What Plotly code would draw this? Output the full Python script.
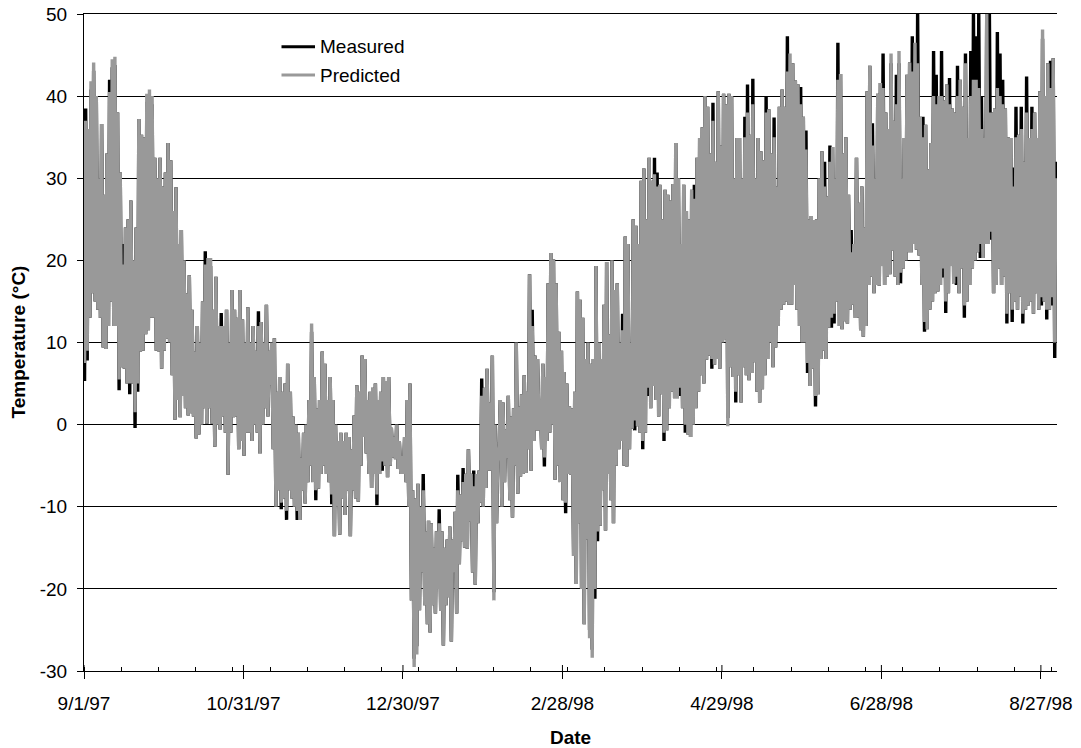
import pandas as pd
import plotly.graph_objects as go

START = "1997-09-01"

# Daily air temperature extremes (deg C), one value per day from 9/1/97
measured_high = [
    38.5, 36, 40.8, 43.1, 40, 30, 36.6, 28, 33, 42,
    43.5, 43.8, 38, 30.7, 22, 24, 25, 27.3, 20, 24,
    37.2, 35.3, 35, 39.3, 39.8, 39, 32.5, 30, 32.5, 29,
    30.7, 34.3, 32.2, 26, 28.9, 22, 23.7, 20, 16, 18.2,
    14, 8.9, 12, 10, 15, 21.1, 19.3, 19.3, 14, 18,
    12, 13.6, 12, 14, 10, 16.4, 14, 13, 16.4, 12.8,
    10, 14.3, 10, 12, 9, 13.8, 12.5, 10, 14.6, 9,
    10, 10.5, 4, 5.8, 4, 5, 7.4, 4, 1, 0,
    -1, -4, -1, 0, 3, 11.3, 5.8, 2, 3, 8.9,
    7.4, 3, 5.8, 3, 0, -2, -1, -2, -1, -1.5,
    -3, 1.1, 4.8, 4, 8.4, 8, 3, 4, 4.5, 5,
    3, 4, 5.8, 5.3, 5.8, -0.4, -1.5, 0, -2, -3.8,
    -1.5, 3, 5, -8, -9, -7.2, -10, -6, -13, -11.7,
    -12, -15, -13, -10.3, -13, -15, -14, -12.4, -14, -10.6,
    -6.1, -8.5, -5.3, -6, -3, -6, -5.6, -6, -5.6, 5.6,
    4.5, 6.8, 2.7, 8.4, 0, -4.5, 3, 2.7, -0.6, 3.5,
    1, 2, 10, 2.2, 3.7, 6, 4, 18.3, 14, 8.4,
    8, 3, 7.4, 5.8, 17.2, 20.9, 20.1, 17.2, 11.3, 9,
    6.4, 5, 2.2, 2, 4, 16.2, 15.2, 13, 8, 10,
    7.4, 8, 19.3, 10, 8, 14.6, 19.8, 11, 20, 16.4,
    17.2, 10, 13.5, 22.9, 22, 10, 25, 24.2, 22, 29.7,
    31.2, 25, 32.5, 29.7, 32.5, 30.7, 29.2, 25, 28.6, 28,
    27.3, 29.3, 34.3, 30, 22, 29.2, 26, 25, 28.6, 29.2,
    32.5, 34.9, 36.2, 40, 38.7, 33, 39.2, 32, 40.6, 34,
    40.3, 39, 40.3, 40, 30, 34.9, 34.9, 30, 37.5, 41.4,
    35.3, 42.1, 30, 34.9, 33.3, 32.2, 40, 38.4, 33, 37.4,
    29, 38.7, 40.8, 38.7, 47.3, 44, 44, 41.9, 41.4, 41.1,
    37.5, 35.8, 25, 25.4, 24.9, 25, 30, 33.3, 32, 27.8,
    34, 33.8, 30, 46.5, 42.7, 33, 35, 28, 23.7, 22,
    32.5, 27, 29, 24, 40.6, 43.7, 36.7, 30, 40.3, 41.6,
    45.2, 38, 36, 44, 37, 42.6, 44, 30, 34.9, 42.6,
    44.1, 47.3, 45, 50, 37.5, 37.5, 36.5, 31.1, 34.3, 45.5,
    42.6, 40, 45.5, 39.5, 41.4, 42.2, 38.5, 38, 43.7, 42,
    38.7, 45.2, 34.9, 45.5, 50, 47.3, 50, 40, 35, 50,
    50, 38, 38.5, 47.8, 45.2, 42, 38.5, 35, 34.9, 31.3,
    38.7, 35.3, 38.7, 32, 42.4, 34.9, 38.7, 38, 34.9, 40.6,
    47, 40, 44, 44.3, 44.6, 32,
]

measured_low = [
    5.3, 7.8, 13, 16, 15, 14, 13, 9.4, 9.2, 12,
    15, 12, 12, 4.2, 7, 6.8, 5, 3.7, 5, -0.4,
    4, 8.9, 9, 11, 11.5, 13, 13, 9, 8.9, 6.8,
    9, 10.5, 10, 6, 0.6, 3, 0.9, 3.5, 2, 1.1,
    1.4, 1, -1.7, -1.2, 0, 2, 0.1, 2, 0.1, -2.7,
    0, -0.6, 1, -1, -6.1, -1, 0.9, 1, -3, -2,
    -3.8, -1, -1, -2, 0, -1, -3.5, 0, 2, 1,
    4.8, -3, -10, -8, -10.3, -9, -11.6, -8, -9, -10,
    -11.6, -11.6, -8, -9.6, -7, -5, -7, -9.2, -7.8, -6,
    -5, -6, -7, -9.7, -13.6, -10, -13.4, -9, -11, -8,
    -13.6, -8, -9, -9.4, -5, -1.5, -3.5, -6, -7.7, -6,
    -9.8, -6, -5.6, -5, -6.4, -5, -4, -4.2, -5.4, -6,
    -6, -7, -10, -21.4, -28.5, -27, -22.6, -18, -22, -24.3,
    -25.3, -22, -23, -20, -22.7, -26.9, -22, -21, -26.4, -18,
    -23, -17, -14.2, -15, -15.1, -11.8, -18, -19.5, -12, -9.5,
    -10, -7.7, -5.6, -5.6, -20.4, -12, -2.2, -10, -7, -4.1,
    -9.2, -11.3, -5, -8.4, -6.3, -6, -5.9, -3, -5.6, -2,
    -0.7, -0.7, -3, -5.1, -2, -1, 0, -6.7, -5, -7,
    -9.2, -10.8, -6, -6.1, -16, -19.4, -12, -20, -24.3, -14,
    -25, -27.4, -21.2, -14.2, -12.3, -8, -12.9, -6, -9.2, -12,
    -5, -3, -2, -5, -5.1, -3, -0.5, -0.7, -0.2, -1,
    -3, -1, 3.5, 2, 4.7, 3, 1, 3.7, -2, -0.7,
    2, 4, 3.2, 3.2, 3.5, 2, -1, -1.2, -1.5, 0,
    2, 4, 6, 5, 7.9, 8.4, 6.8, 7.3, 8, 6.8,
    10, 10.4, 0.8, 7, 5.8, 2.7, 6, 2.7, 7, 6,
    5.4, 6.3, 7.6, 4, 2.7, 4.3, 6, 8, 10, 7,
    9.4, 12, 14, 14.6, 15, 14.6, 14.6, 17, 14, 12,
    10, 10, 6.3, 4.7, 6.8, 2.2, 3.7, 8, 9, 8,
    11.8, 11.8, 12.3, 15, 12, 11.6, 12.6, 12.3, 14, 14.6,
    13, 13, 11.5, 10.7, 12, 17, 18, 16, 17, 16.9,
    19.3, 17, 18, 18.3, 21.2, 18, 17, 17.2, 19, 20,
    21, 21, 22, 21.3, 20.6, 17, 11.3, 11.6, 14, 15,
    16, 16.2, 17, 17.9, 13.6, 16, 19.3, 17.2, 17, 16,
    19, 13, 15, 17, 19, 20, 21, 20.3, 20.3, 22,
    27.3, 22.5, 16, 17, 19, 17, 18, 12.3, 16, 12.5,
    15, 14, 15.6, 12.3, 14, 14.5, 15, 13.5, 16, 14,
    14.5, 15, 12.8, 14, 14.5, 8.1,
]

predicted_high = [
    37, 36, 41.8, 44.1, 40, 30, 36.6, 28, 33, 40.5,
    44.5, 44.8, 38, 30.7, 19.5, 24, 25, 27.3, 20, 24,
    37.2, 35.3, 35, 40.3, 40.8, 40, 32.5, 30, 32.5, 29,
    30.7, 34.3, 32.2, 26, 28.9, 22, 23.7, 20, 16, 18.2,
    14, 8.9, 12, 10, 15, 19.5, 20.3, 20.3, 14, 18,
    12, 12, 12, 14, 10, 16.4, 14, 13, 16.4, 12.8,
    10, 14.3, 10, 12, 9, 12, 12.5, 10, 14.6, 9,
    10, 10.5, 4, 5.8, 4, 5, 7.4, 4, 1, 0,
    -1, -4, -1, 0, 3, 12.3, 5.8, 2, 3, 8.9,
    7.4, 3, 5.8, 3, 0, -2, -1, -2, -1, -1.5,
    -3, 1.1, 4.8, 4, 8.4, 8, 3, 4, 4.5, 5,
    3, 4, 5.8, 5.3, 5.8, -0.4, -1.5, 0, -2, -3.8,
    -1.5, 3, 5, -8, -9, -7.2, -10, -8, -13, -11.7,
    -12, -15, -13, -12, -13, -15, -14, -12.4, -14, -10.6,
    -8, -8.5, -7, -6, -3, -6, -7.5, -6, -5.6, 3.5,
    4.5, 6.8, 2.7, 8.4, 0, -4.5, 3, 2.7, -0.6, 3.5,
    1, 2, 10, 2.2, 3.7, 6, 4, 18.3, 12, 8.4,
    8, 3, 7.4, 5.8, 17.2, 20.9, 20.1, 17.2, 11.3, 9,
    6.4, 5, 2.2, 2, 4, 16.2, 15.2, 13, 8, 10,
    7.4, 8, 19.3, 10, 8, 14.6, 19.8, 11, 20, 16.4,
    17.2, 10, 11.5, 22.9, 22, 10, 25, 24.2, 22, 29.7,
    31.2, 25, 32.5, 29.7, 30.5, 29, 29.2, 25, 28.6, 28,
    27.3, 29.3, 34.3, 30, 22, 29.2, 26, 25, 28.6, 27.5,
    32.5, 34.9, 36.2, 40, 38.7, 33, 37, 32, 40.6, 34,
    40.3, 39, 40.3, 40, 30, 34.9, 34.9, 30, 35, 38,
    35.3, 39, 30, 34.9, 33.3, 32.2, 38, 38.4, 33, 35,
    29, 38.7, 40.8, 38.7, 43, 45.2, 44, 41.9, 41.4, 39,
    37.5, 33.5, 25, 25.4, 24.9, 25, 30, 33.3, 29, 27.8,
    32, 33.8, 30, 42, 42.7, 33, 35, 28, 21, 22,
    32.5, 27, 29, 24, 40.6, 43.7, 34, 30, 40.3, 41.6,
    41, 38, 36, 45.2, 37, 39, 45.5, 30, 34.9, 42.6,
    44.1, 43, 46.5, 44, 37.5, 35, 36.5, 31.1, 34.3, 40,
    39, 40, 40, 39.5, 41.4, 39, 38.5, 38, 40, 42,
    38.7, 44, 34.9, 40, 42, 42, 41, 36, 35, 50,
    38, 38, 38.5, 41, 40, 39, 38.5, 35, 34.9, 29,
    35, 35.3, 36, 32, 38, 34.9, 36, 38, 34.9, 40.6,
    48.1, 40, 44, 41, 44.6, 30,
]

predicted_low = [
    7.5, 9, 13, 16, 15, 14, 13, 9.4, 9.2, 12,
    15, 12, 12, 5.5, 7, 6.8, 5, 5, 5, 1.5,
    5, 8.9, 9, 11, 11.5, 13, 13, 9, 8.9, 6.8,
    9, 10.5, 10, 6, 0.6, 3, 0.9, 3.5, 2, 1.1,
    1.4, 1, -1.7, -1.2, 0, 2, 0.1, 2, 0.1, -2.7,
    0, -0.6, 1, -1, -6.1, -1, 0.9, 1, -3, -2,
    -3.8, -1, -1, -2, 0, -1, -3.5, 0, 2, 1,
    4.8, -3, -10, -8, -9.5, -9, -10.5, -8, -9, -10,
    -10.5, -11.6, -8, -9.6, -7, -5, -7, -8, -7.8, -6,
    -5, -6, -7, -8.5, -13.6, -10, -13.4, -9, -11, -8,
    -13.6, -8, -9, -9.4, -5, -1.5, -3.5, -6, -7.7, -6,
    -8.5, -6, -4.5, -5, -6.4, -5, -4, -4.2, -5.4, -6,
    -6, -7, -10, -21.4, -29.5, -28, -22.6, -18, -22, -24.3,
    -25.3, -22, -23, -20, -22.7, -26.9, -22, -21, -26.4, -18,
    -23, -17, -14.2, -15, -15.1, -11.8, -18, -19.5, -12, -9.5,
    -10, -7.7, -5.6, -5.6, -21.4, -12, -2.2, -10, -7, -4.1,
    -9.2, -11.3, -5, -8.4, -6.3, -6, -5.9, -3, -5.6, -2,
    -0.7, -0.7, -3, -4, -2, -1, 0, -6.7, -5, -7,
    -9.2, -9.5, -6, -6.1, -16, -19.4, -12, -20, -24.3, -14,
    -26, -28.4, -20, -13, -12.3, -8, -12.9, -6, -9.2, -12,
    -5, -3, -2, -5, -5.1, -3, -0.5, 0.5, -0.2, -1,
    -2, -1, 4.5, 2, 4.7, 3, 1, 3.7, -1, -0.7,
    2, 4, 3.2, 3.2, 4.5, 2, 0, -1.2, -1.5, 0,
    2, 4, 6, 5, 7.9, 8.4, 8, 7.3, 8, 6.8,
    10, 10.4, -0.2, 7, 5.8, 4, 6, 2.7, 7, 6,
    5.4, 6.3, 7.6, 4, 2.7, 4.3, 6, 8, 10, 7,
    9.4, 12, 14, 14.6, 15, 14.6, 14.6, 17, 14, 12,
    10, 10, 7.5, 4.7, 6.8, 3.5, 3.7, 8, 9, 8,
    11.8, 13, 13.5, 15, 12, 11.6, 12.6, 12.3, 14, 14.6,
    13, 13, 11.5, 10.7, 12, 17, 18, 16, 17, 16.9,
    19.3, 17, 18, 18.3, 21.2, 18, 17, 18.5, 19, 20,
    21, 21, 22, 21.3, 20.6, 17, 12.5, 11.6, 14, 15,
    16, 16.2, 17, 19, 15, 16, 19.3, 17.2, 18, 16,
    19, 14.5, 15, 17, 19, 20, 21, 22, 20.3, 22,
    22, 23.5, 16, 17, 19, 17, 18, 13.5, 16, 14,
    15, 14, 15.6, 13.5, 14, 14.5, 15, 13.5, 16, 14,
    15.5, 15, 14, 14, 15.5, 10,
]

# Temperature axis ticks and their labels (plain hyphen for negatives)
y_ticks = [-30, -20, -10, 0, 10, 20, 30, 40, 50]
y_tick_labels = ["-30", "-20", "-10", "0", "10", "20", "30", "40", "50"]

# Axis settings
Y_MIN, Y_MAX = -30, 50
X_END = "1998-09-02 01:30"
MAJOR_DAYS = 60
MINOR_DAYS = 14
DAY_MS = 86400000

FONT = "Liberation Sans, Arial, sans-serif"
GRAY = "#999999"

# Daily minimum early morning, maximum mid-afternoon
days = pd.date_range(START, periods=len(measured_high), freq="D")
t_low = days + pd.Timedelta(hours=5)
t_high = days + pd.Timedelta(hours=15)


def diurnal(lows, highs):
    xs, ys = [], []
    for tl, th, lo, hi in zip(t_low, t_high, lows, highs):
        xs += [tl, th]
        ys += [lo, hi]
    return xs, ys


mx, my = diurnal(measured_low, measured_high)
px_, py_ = diurnal(predicted_low, predicted_high)

fig = go.Figure()
fig.add_trace(go.Scatter(x=mx, y=my, mode="lines", name="Measured",
                         line=dict(color="#000000", width=3.4), showlegend=False))
fig.add_trace(go.Scatter(x=px_, y=py_, mode="lines", name="Predicted",
                         line=dict(color=GRAY, width=3.4), showlegend=False))

W, H = 1081, 748
L, R, T, B = 84, 24, 14, 77
plot_w = W - L - R
plot_h = H - T - B


def px_to_paper(x, y):
    return (x - L) / plot_w, (H - B - y) / plot_h


shapes = []
annotations = []

# Legend drawn in the upper-left area
for label, color, ypix in (("Measured", "#000000", 46.7), ("Predicted", GRAY, 75)):
    x0, yp = px_to_paper(281.5, ypix)
    x1, _ = px_to_paper(315, ypix)
    shapes.append(dict(type="line", xref="paper", yref="paper", x0=x0, x1=x1,
                       y0=yp, y1=yp, line=dict(color=color, width=3)))
    xt, _ = px_to_paper(318, ypix)
    annotations.append(dict(xref="paper", yref="paper", x=xt, y=yp, text=label,
                            showarrow=False, xanchor="left", yanchor="middle",
                            font=dict(family=FONT, size=19, color="black")))

# Major date ticks cross the axis: inner half drawn here
tick_in = 6 * (Y_MAX - Y_MIN) / plot_h
for k in range(7):
    td = pd.Timestamp(START) + pd.Timedelta(days=MAJOR_DAYS * k)
    shapes.append(dict(type="line", xref="x", yref="y", x0=td, x1=td,
                       y0=Y_MIN, y1=Y_MIN + tick_in,
                       line=dict(color="black", width=1)))

# Axis titles
yt_x, _ = px_to_paper(18, 0)
annotations.append(dict(xref="paper", yref="paper", x=yt_x, y=0.5,
                        text="<b>Temperature (°C)</b>", textangle=-90,
                        showarrow=False, xanchor="center", yanchor="middle",
                        font=dict(family=FONT, size=19, color="black")))
_, xt_y = px_to_paper(0, 737)
annotations.append(dict(xref="paper", yref="paper", x=0.5, y=xt_y,
                        text="<b>Date</b>", showarrow=False,
                        xanchor="center", yanchor="middle",
                        font=dict(family=FONT, size=19, color="black")))

fig.update_layout(
    width=W, height=H,
    margin=dict(l=L, r=R, t=T, b=B, pad=0, autoexpand=False),
    paper_bgcolor="white", plot_bgcolor="white",
    font=dict(family=FONT, size=19, color="black"),
    shapes=shapes, annotations=annotations,
    showlegend=False,
    xaxis=dict(
        type="date", range=[START, X_END], automargin=False,
        tick0=START, dtick=MAJOR_DAYS * DAY_MS, tickformat="%-m/%-d/%y",
        ticks="outside", ticklen=7, tickcolor="black", tickwidth=1,
        ticklabelstandoff=8,
        showline=True, linecolor="black", linewidth=1, mirror=True,
        showgrid=False, zeroline=False,
        minor=dict(tick0=START, dtick=MINOR_DAYS * DAY_MS, ticks="inside",
                   ticklen=4, tickcolor="black", tickwidth=1, showgrid=False),
        tickfont=dict(family=FONT, size=19, color="black"),
    ),
    yaxis=dict(
        range=[Y_MIN, Y_MAX], automargin=False,
        tickmode="array", tickvals=y_ticks, ticktext=y_tick_labels,
        ticks="outside", ticklen=6, tickcolor="black", tickwidth=1,
        ticklabelstandoff=6,
        showline=True, linecolor="black", linewidth=1,
        showgrid=True, gridcolor="black", gridwidth=1,
        zeroline=False,
        tickfont=dict(family=FONT, size=19, color="black"),
    ),
)

fig.write_html("out.html")
